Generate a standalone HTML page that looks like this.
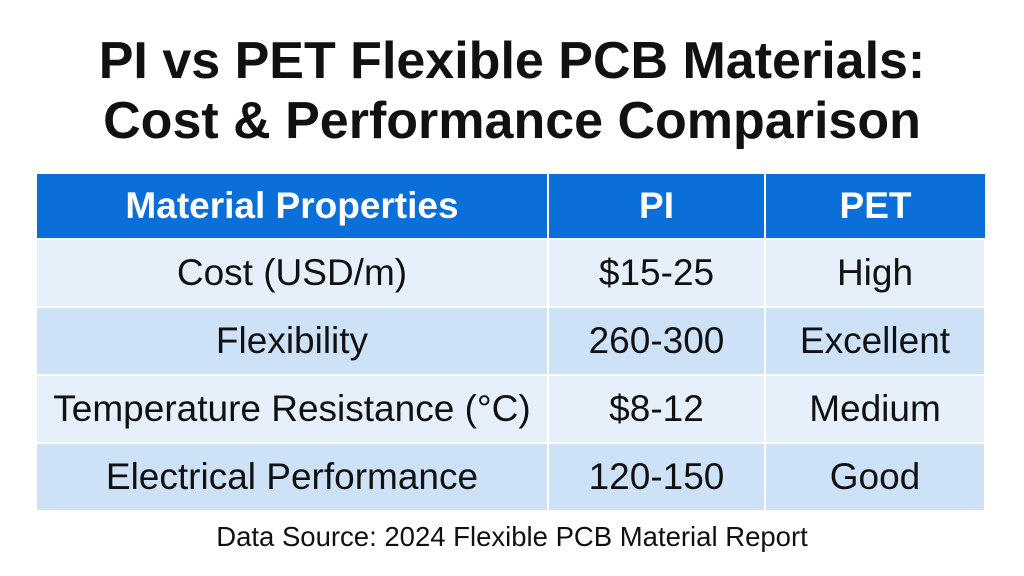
<!DOCTYPE html>
<html><head><style>
body{margin:0;width:1024px;height:576px;background:#fff;font-family:"Liberation Sans",sans-serif;position:relative;overflow:hidden}
h1{position:absolute;top:31px;left:0;width:1024px;margin:0;text-align:center;font-size:52px;line-height:60px;font-weight:bold;color:#111}
table{position:absolute;left:37px;top:174px;width:949px;border-collapse:collapse}
td,th{text-align:center;font-size:37px;color:#111;height:66px;padding:0;border-right:2px solid #fff;border-bottom:2px solid #fff}
th{background:#0a6fd8;color:#fff;font-size:37px;height:64px}
tr.a td{background:#e6f0fb}
tr.b td{background:#cde1f7}
.src{position:absolute;top:521px;left:0;width:1024px;text-align:center;font-size:27.5px;color:#111}
</style></head><body>
<h1>PI vs PET Flexible PCB Materials:<br>Cost &amp; Performance Comparison</h1>
<table>
<tr><th style="width:510px">Material Properties</th><th style="width:215px">PI</th><th style="border-right:none">PET</th></tr>
<tr class="a"><td>Cost (USD/m)</td><td>$15-25</td><td>High</td></tr>
<tr class="b"><td>Flexibility</td><td>260-300</td><td>Excellent</td></tr>
<tr class="a"><td>Temperature Resistance (°C)</td><td>$8-12</td><td>Medium</td></tr>
<tr class="b"><td>Electrical Performance</td><td>120-150</td><td>Good</td></tr>
</table>
<div class="src">Data Source: 2024 Flexible PCB Material Report</div>
</body></html>
